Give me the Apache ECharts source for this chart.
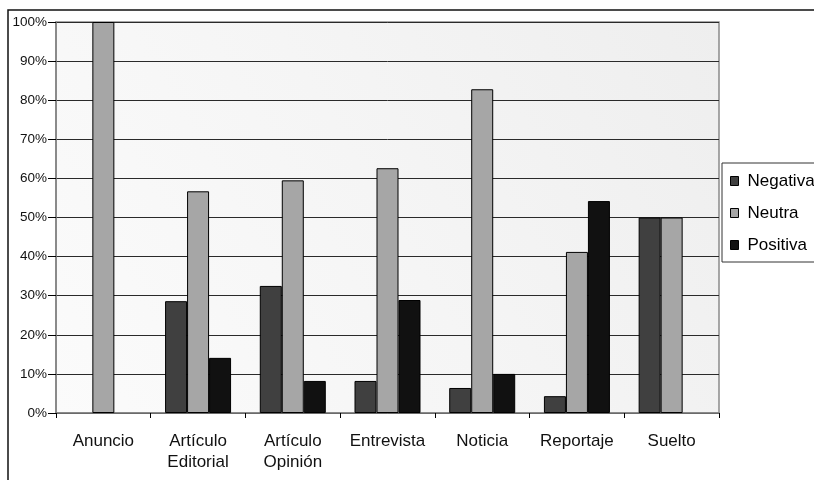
<!DOCTYPE html>
<html>
<head>
<meta charset="utf-8">
<script src="https://cdn.jsdelivr.net/npm/echarts@6/dist/echarts.min.js"></script>
<style>
  html, body { margin: 0; padding: 0; background: #fff; }
  #chart { width: 814px; height: 480px; }
</style>
</head>
<body>
<div id="chart"></div>
<script>
// categorías del eje x
const categories = ['Anuncio', 'Artículo\nEditorial', 'Artículo\nOpinión', 'Entrevista', 'Noticia', 'Reportaje', 'Suelto']
const seriesNames = ['Negativa', 'Neutra', 'Positiva']

// porcentajes
const negativa = [0, 28.6, 32.5, 8.2, 6.4, 4.3, 50]
const neutra = [100, 56.7, 59.5, 62.6, 82.8, 41.2, 50]
const positiva = [0, 14.1, 8.2, 28.9, 10.0, 54.2, 0]

const yTicks = [0, 10, 20, 30, 40, 50, 60, 70, 80, 90, 100]

const colors = ['#404040', '#a6a6a6', '#111111']
const font = '"Liberation Sans", Arial, sans-serif'

const chart = echarts.init(document.getElementById('chart'), null, { renderer: 'canvas' })

// las barras con valor 0 no dibujan borde
const makeSeries = (name, data, color) => ({
  name,
  type: 'bar',
  data: data.map(v => v === 0 ? { value: 0, itemStyle: { borderWidth: 0, opacity: 0 } } : v),
  barWidth: 22,
  barGap: '0%',
  itemStyle: {
    color,
    borderColor: '#000',
    borderWidth: 1
  }
})

chart.setOption({
  animation: false,
  color: colors,
  grid: {
    left: 56,
    right: 95,
    top: 22,
    bottom: 67,
    show: true,
    borderColor: '#8a8a8a',
    borderWidth: 1.5,
    backgroundColor: new echarts.graphic.LinearGradient(1, 0, 0, 1, [
      { offset: 0, color: '#eeeeee' },
      { offset: 0.5, color: '#f5f5f5' },
      { offset: 1, color: '#fbfbfb' }
    ])
  },
  graphic: [{
    type: 'rect',
    shape: { x: 8, y: 10, width: 900, height: 600 },
    style: { fill: 'none', stroke: '#111', lineWidth: 1.5 },
    silent: true
  }],
  legend: {
    orient: 'vertical',
    left: 722,
    top: 163,
    data: seriesNames,
    icon: 'rect',
    itemWidth: 8,
    itemHeight: 9,
    itemGap: 14,
    padding: [9, 20, 8, 8],
    borderColor: '#333',
    borderWidth: 1,
    backgroundColor: '#fff',
    textStyle: {
      fontFamily: font,
      fontSize: 17,
      lineHeight: 18,
      color: '#000',
      padding: [0, 0, 0, 4]
    },
    itemStyle: { borderColor: '#000', borderWidth: 1 }
  },
  xAxis: {
    type: 'category',
    data: categories,
    axisLine: { lineStyle: { color: '#808080', width: 1.5 } },
    axisTick: { show: true, length: 5, lineStyle: { color: '#000' } },
    axisLabel: {
      fontFamily: font,
      fontSize: 17,
      lineHeight: 21,
      color: '#111',
      margin: 18,
      interval: 0
    }
  },
  yAxis: {
    type: 'value',
    min: 0,
    max: 100,
    interval: 10,
    axisLine: { show: true, lineStyle: { color: '#808080', width: 1.5 } },
    axisTick: { show: true, length: 8, lineStyle: { color: '#000' } },
    axisLabel: {
      fontFamily: font,
      fontSize: 13.5,
      color: '#111',
      margin: 9,
      formatter: v => yTicks.includes(v) ? v + '%' : ''
    },
    splitLine: { lineStyle: { color: '#2a2a2a', width: 1 } }
  },
  series: [
    makeSeries(seriesNames[0], negativa, colors[0]),
    makeSeries(seriesNames[1], neutra, colors[1]),
    makeSeries(seriesNames[2], positiva, colors[2])
  ]
})
</script>
</body>
</html>
